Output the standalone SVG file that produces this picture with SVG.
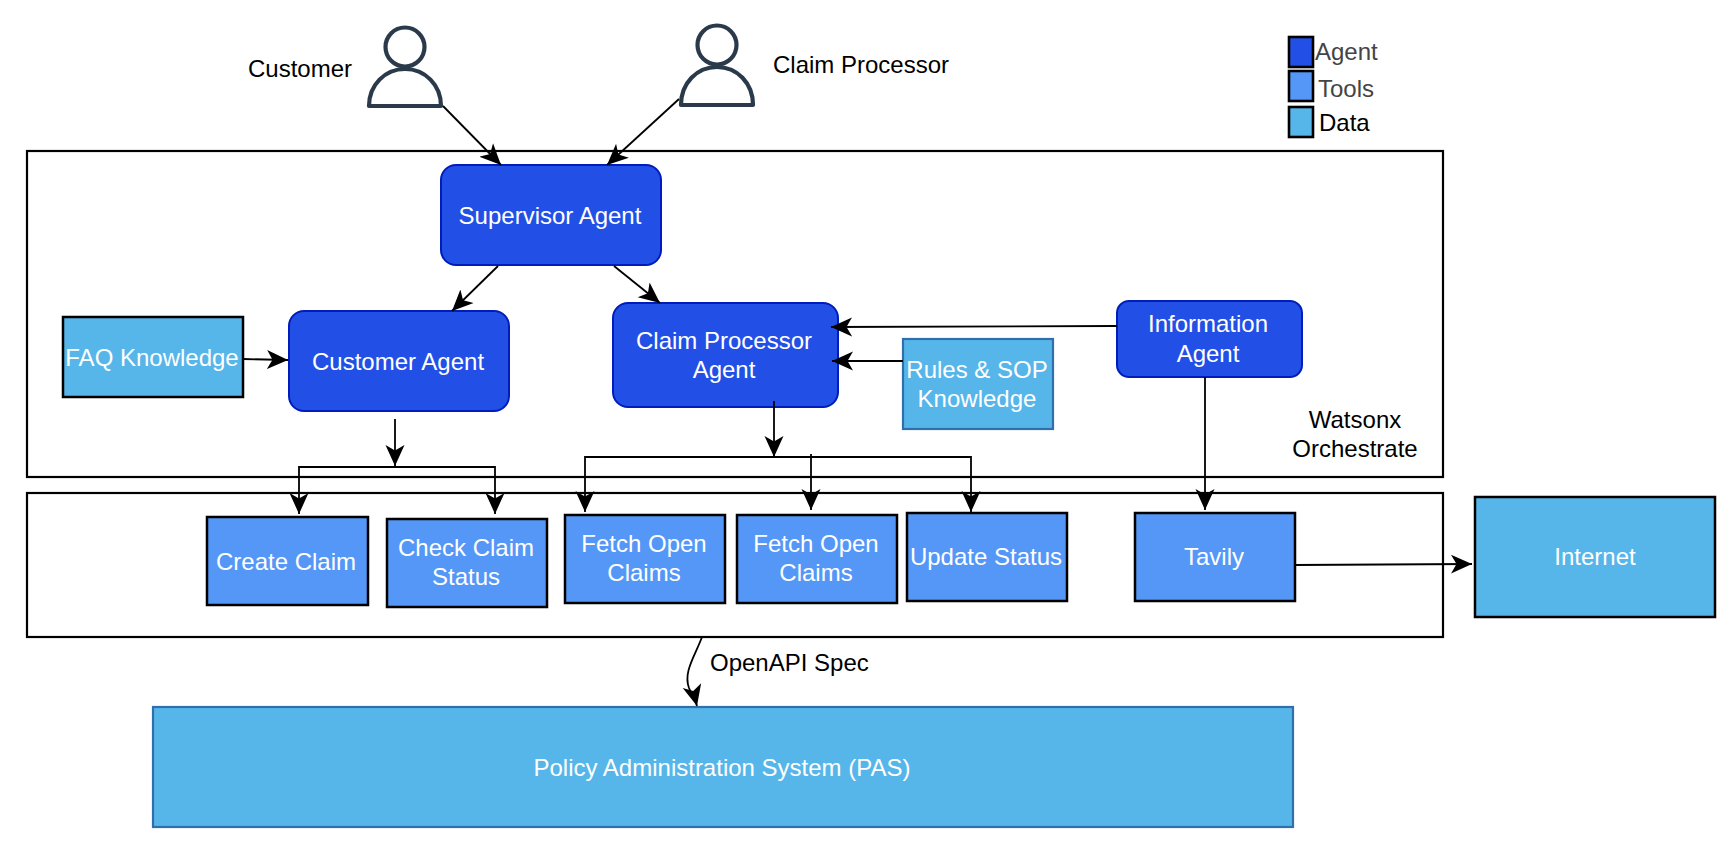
<svg xmlns="http://www.w3.org/2000/svg" width="1734" height="850" viewBox="0 0 1734 850">
<style>
text{font-family:"Liberation Sans",Arial,Helvetica,sans-serif;font-size:24px}
.w{fill:#fff;text-anchor:middle}
.k{fill:#000}
.m{text-anchor:middle}
.agent{fill:#2250e6;stroke:#001dbc;stroke-width:2}
.tool{fill:#5597f7;stroke:#000;stroke-width:2.5}
.data{fill:#56b6e9;stroke:#000;stroke-width:2.5}
.datab{fill:#56b6e9;stroke:#2f6fab;stroke-width:2.2}
.frame{fill:#fff;stroke:#000;stroke-width:2.2}
.person{fill:#fff;stroke:#2b3a4b;stroke-width:4.2;stroke-linejoin:round}
.leg{stroke:#000;stroke-width:2.6}
.c{fill:none;stroke:#000;stroke-width:1.8}
.a{marker-end:url(#arrow)}
</style>
<defs>
<marker id="arrow" markerUnits="userSpaceOnUse" markerWidth="22" markerHeight="20" viewBox="0 0 22 20" refX="21" refY="10" orient="auto">
<path d="M21,10 L0,0.5 L5.5,10 L0,19.5 Z" fill="#000"/>
</marker>
</defs>

<g id="watsonx-frame"><rect class="frame" x="27" y="151" width="1416" height="326"/></g>
<g id="tools-frame"><rect class="frame" x="27" y="493" width="1416" height="144"/></g>

<g id="customer"><circle class="person" cx="405" cy="47" r="19.5"/><path class="person" d="M369,106 C369,85 385,69 405,69 C425,69 441,85 441,106 Z"/><text class="k" x="248" y="77">Customer</text></g>
<g id="claim-processor"><circle class="person" cx="717" cy="45" r="19.5"/><path class="person" d="M681,105 C681,83 697,67 717,67 C737,67 753,83 753,105 Z"/><text class="k" x="773" y="73">Claim Processor</text></g>

<g id="legend">
<rect class="leg" x="1289" y="37" width="24" height="30" fill="#2250e6"/><text x="1315" y="60" fill="#444">Agent</text>
<rect class="leg" x="1289" y="71" width="24" height="30" fill="#5597f7"/><text x="1318" y="97" fill="#444">Tools</text>
<rect class="leg" x="1289" y="107" width="24" height="30" fill="#56b6e9"/><text x="1319" y="131" fill="#000">Data</text>
</g>

<g id="supervisor-agent"><rect class="agent" x="441" y="165" width="220" height="100" rx="15"/><text class="w" x="550" y="224">Supervisor Agent</text></g>
<g id="customer-agent"><rect class="agent" x="289" y="311" width="220" height="100" rx="15"/><text class="w" x="398" y="370">Customer Agent</text></g>
<g id="claim-processor-agent"><rect class="agent" x="613" y="303" width="225" height="104" rx="15"/><text class="w" x="724" y="349">Claim Processor</text><text class="w" x="724" y="378">Agent</text></g>
<g id="information-agent"><rect class="agent" x="1117" y="301" width="185" height="76" rx="12"/><text class="w" x="1208" y="332">Information</text><text class="w" x="1208" y="362">Agent</text></g>
<g id="faq-knowledge"><rect class="data" x="63" y="317" width="180" height="80"/><text class="w" x="152" y="366">FAQ Knowledge</text></g>
<g id="rules-sop"><rect class="datab" x="903" y="339" width="150" height="90"/><text class="w" x="977" y="378">Rules &amp; SOP</text><text class="w" x="977" y="407">Knowledge</text></g>

<g id="create-claim"><rect class="tool" x="207" y="517" width="161" height="88"/><text class="w" x="286" y="570">Create Claim</text></g>
<g id="check-claim-status"><rect class="tool" x="387" y="519" width="160" height="88"/><text class="w" x="466" y="556">Check Claim</text><text class="w" x="466" y="585">Status</text></g>
<g id="fetch-open-claims-1"><rect class="tool" x="565" y="515" width="160" height="88"/><text class="w" x="644" y="552">Fetch Open</text><text class="w" x="644" y="581">Claims</text></g>
<g id="fetch-open-claims-2"><rect class="tool" x="737" y="515" width="160" height="88"/><text class="w" x="816" y="552">Fetch Open</text><text class="w" x="816" y="581">Claims</text></g>
<g id="update-status"><rect class="tool" x="907" y="513" width="160" height="88"/><text class="w" x="986" y="565">Update Status</text></g>
<g id="tavily"><rect class="tool" x="1135" y="513" width="160" height="88"/><text class="w" x="1214" y="565">Tavily</text></g>
<g id="internet"><rect class="data" x="1475" y="497" width="240" height="120"/><text class="w" x="1595" y="565">Internet</text></g>
<g id="pas"><rect class="datab" x="153" y="707" width="1140" height="120"/><text class="w" x="722" y="776">Policy Administration System (PAS)</text></g>

<g id="watsonx-label"><text class="k m" x="1355" y="428">Watsonx</text><text class="k m" x="1355" y="457">Orchestrate</text></g>

<g id="connectors">
<path class="c a" d="M443,106 L501,165"/>
<path class="c a" d="M679,99 L607,165"/>
<path class="c a" d="M498,266 L452,311"/>
<path class="c a" d="M614,266 L660,303"/>
<path class="c a" d="M243,359 L288,360"/>
<path class="c a" d="M1117,326 L831,327"/>
<path class="c a" d="M903,361 L832,361"/>
<path class="c a" d="M395,419 L395,466"/>
<path class="c a" d="M397,467 L299,467 L299,514"/>
<path class="c a" d="M397,467 L495,467 L495,514"/>
<path class="c a" d="M774,401 L774,457"/>
<path class="c a" d="M776,457 L585,457 L585,512"/>
<path class="c a" d="M772,457 L971,457 L971,512"/>
<path class="c a" d="M811,454 L811,510"/>
<path class="c a" d="M1205,377 L1205,510"/>
<path class="c a" d="M1294,565 L1472,564"/>
<path class="c a" d="M702,637 C695,656 683,672 689,688 C692,695 695,698 697,706"/>
<text class="k" x="710" y="671">OpenAPI Spec</text>
</g>
</svg>
